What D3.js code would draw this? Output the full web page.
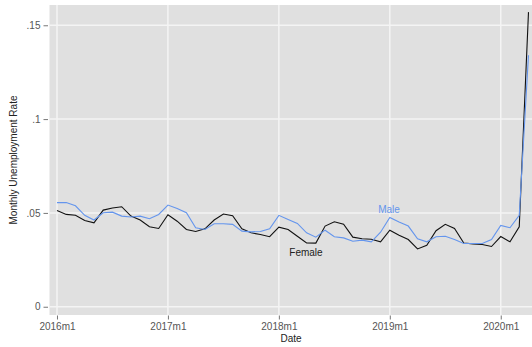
<!DOCTYPE html>
<html><head><meta charset="utf-8">
<script src="https://cdn.jsdelivr.net/npm/d3@7"></script>
<style>body{margin:0;background:#fff}svg{display:block;font-family:"Liberation Sans",Arial,sans-serif}</style>
</head><body><div id="c"></div>
<script>
const months = d3.range(52); // 2016m1 .. 2020m4
const male = [.0555,.0555,.0538,.0487,.0462,.0501,.0504,.0483,.0478,.0483,.0469,.0492,.0542,.0524,.0501,.0421,.0412,
 .0442,.0442,.0439,.0403,.0399,.0401,.0415,.0487,.0465,.0444,.0394,.0371,.0408,.0373,.0367,.0349,.0355,.0346,
 .0397,.0476,.0451,.0430,.0362,.0346,.0373,.0376,.0358,.0337,.0337,.0337,.0358,.0433,.0421,.0487,.134];
const female = [.0513,.0492,.0488,.0460,.0447,.0515,.0526,.0533,.0483,.0462,.0426,.0417,.0490,.0456,.0412,.0401,.0415,
 .0462,.0494,.0485,.0415,.0394,.0385,.0373,.0424,.0412,.0376,.0340,.0339,.0430,.0453,.0440,.0371,.0362,.0360,
 .0346,.0408,.0381,.0358,.0308,.0328,.0405,.0439,.0417,.0340,.0335,.0332,.0321,.0374,.0346,.0426,.157];
const xTickPos = [0,12,24,36,48];
const xTickLabels = ["2016m1","2017m1","2018m1","2019m1","2020m1"];
const yTicks = [0,.05,.1,.15];
const yTickLabels = ["0",".05",".1",".15"];

const W=532,H=347, L=49.5, R=532, T=5, B=315;
const svg=d3.select("#c").append("svg").attr("width",W).attr("height",H);
const x=d3.scaleLinear().domain([-0.81,51.38]).range([L,R]);
const y=d3.scaleLinear().domain([-0.0044,0.1608]).range([B,T]);

svg.append("rect").attr("x",L).attr("y",T).attr("width",R-L).attr("height",B-T).attr("fill","#e0e0e0");
svg.append("g").selectAll("line").data(yTicks).join("line")
 .attr("x1",L).attr("x2",R).attr("y1",d=>y(d)).attr("y2",d=>y(d)).attr("stroke","#f4f4f4").attr("stroke-width",1.5);
svg.append("g").selectAll("line").data(xTickPos).join("line")
 .attr("y1",T).attr("y2",B).attr("x1",d=>x(d)).attr("x2",d=>x(d)).attr("stroke","#f4f4f4").attr("stroke-width",1.5);

// y axis
const ya=svg.append("g").attr("transform",`translate(${L-1.5},0)`)
 .call(d3.axisLeft(y).tickValues(yTicks).tickFormat((d,i)=>yTickLabels[i]).tickSize(4.5).tickPadding(3));
ya.select(".domain").remove();
ya.selectAll("line").attr("stroke","#777");
ya.selectAll("text").attr("fill","#555").style("font-size","10px").style("font-family","Liberation Sans, Arial, sans-serif");
// x axis
const xa=svg.append("g").attr("transform",`translate(0,${B+0.5})`)
 .call(d3.axisBottom(x).tickValues(xTickPos).tickFormat((d,i)=>xTickLabels[i]).tickSize(4).tickPadding(3));
xa.select(".domain").remove();
xa.selectAll("line").attr("stroke","#777");
xa.selectAll("text").attr("fill","#555").style("font-size","10px").style("font-family","Liberation Sans, Arial, sans-serif");

const line=arr=>d3.line().x((d,i)=>x(months[i])).y(d=>y(d))(arr);
svg.append("path").attr("d",line(female)).attr("fill","none").attr("stroke","#111").attr("stroke-width",1.1);
svg.append("path").attr("d",line(male)).attr("fill","none").attr("stroke","#6495ed").attr("stroke-width",1.1);

svg.append("text").attr("x",389).attr("y",213).attr("text-anchor","middle").attr("fill","#6495ed").style("font-size","10px").text("Male");
svg.append("text").attr("x",306).attr("y",255.5).attr("text-anchor","middle").attr("fill","#222").style("font-size","10px").text("Female");

svg.append("text").attr("x",291).attr("y",342).attr("text-anchor","middle").attr("fill","#222").style("font-size","10px").text("Date");
svg.append("text").attr("transform","translate(17,160) rotate(-90)").attr("text-anchor","middle").attr("fill","#222").style("font-size","10px").text("Monthly Unemployment Rate");
</script></body></html>
